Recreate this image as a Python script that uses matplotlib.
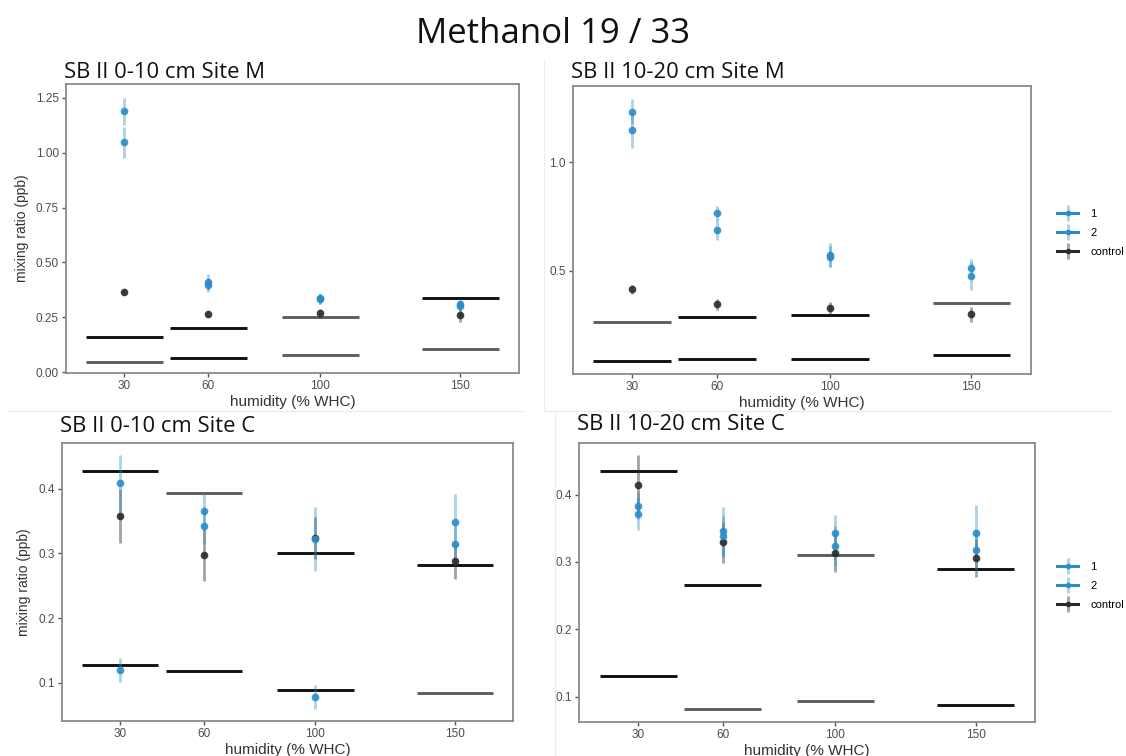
import numpy as np
import matplotlib
matplotlib.use("Agg")
from matplotlib import pyplot as plt
from matplotlib.lines import Line2D
from matplotlib.legend_handler import HandlerTuple

# -- Data --
humidity = [30, 60, 100, 150]
series_labels = ["1", "2", "control"]

# SB II 0-10 cm Site M
m010_s1 = [1.187, 0.411, 0.337, 0.313]
m010_s1_err = [0.063, 0.035, 0.025, 0.02]
m010_s2 = [1.046, 0.396, 0.333, 0.300]
m010_s2_err = [0.07, 0.03, 0.02, 0.02]
m010_ctrl = [0.367, 0.265, 0.269, 0.263]
m010_ctrl_err = [0.012, 0.012, 0.02, 0.035]
m010_ref_hi = [0.159, 0.204, 0.252, 0.339]
m010_ref_lo = [0.048, 0.065, 0.079, 0.106]

# SB II 10-20 cm Site M
m1020_s1 = [1.234, 0.766, 0.572, 0.514]
m1020_s1_err = [0.056, 0.034, 0.054, 0.04]
m1020_s2 = [1.149, 0.688, 0.565, 0.475]
m1020_s2_err = [0.084, 0.048, 0.047, 0.065]
m1020_ctrl = [0.414, 0.345, 0.329, 0.298]
m1020_ctrl_err = [0.02, 0.025, 0.027, 0.035]
m1020_ref_hi = [0.265, 0.286, 0.294, 0.352]
m1020_ref_lo = [0.083, 0.092, 0.092, 0.109]

# SB II 0-10 cm Site C
c010_s1 = [0.408, 0.365, 0.322, 0.349]
c010_s1_err = [0.044, 0.028, 0.05, 0.043]
c010_s2 = [0.120, 0.343, 0.078, 0.314]
c010_s2_err = [0.018, 0.028, 0.019, 0.03]
c010_ctrl = [0.358, 0.297, 0.324, 0.288]
c010_ctrl_err = [0.042, 0.04, 0.032, 0.028]
c010_ref_hi = [0.428, 0.393, 0.300, 0.282]
c010_ref_lo = [0.128, 0.118, 0.089, 0.085]

# SB II 10-20 cm Site C
c1020_s1 = [0.383, 0.346, 0.343, 0.343]
c1020_s1_err = [0.02, 0.036, 0.026, 0.041]
c1020_s2 = [0.371, 0.338, 0.324, 0.318]
c1020_s2_err = [0.024, 0.03, 0.03, 0.03]
c1020_ctrl = [0.414, 0.329, 0.313, 0.306]
c1020_ctrl_err = [0.044, 0.03, 0.028, 0.028]
c1020_ref_hi = [0.435, 0.266, 0.310, 0.290]
c1020_ref_lo = [0.131, 0.081, 0.094, 0.087]

# -- Styling --
W, H = 1126, 756
BLUE = "#2b8cc8"
BLUE_ERR = (0.17, 0.55, 0.78, 0.4)
DARK = "#2a2a2a"
DARK_ERR = (0.2, 0.2, 0.2, 0.45)
BLACK = "#111111"
GREY = "#5e5e5e"
TITLE_FONT = ["Open Sans", "DejaVu Sans"]
AX_FONT = ["Liberation Sans", "DejaVu Sans"]
HALF_W = 13.7


def rect(x0, y0, x1, y1):
    # pixel box (top-left origin) -> figure fraction
    return [x0 / W, 1 - y1 / H, (x1 - x0) / W, (y1 - y0) / H]


def draw_panel(fig, box, title, title_base, s1, s1e, s2, s2e, ctrl, ctrle, hi, lo,
               hi_cols, lo_cols, ylim, yticks, ylabels, ylabel=True):
    ax = fig.add_axes(rect(*box))
    x = np.array(humidity)
    for xi, h, c in zip(x, hi, hi_cols):
        ax.hlines(h, xi - HALF_W, xi + HALF_W, color=c, lw=2.1, zorder=2)
    for xi, l, c in zip(x, lo, lo_cols):
        ax.hlines(l, xi - HALF_W, xi + HALF_W, color=c, lw=2.1, zorder=2)

    for y, e, col, ecol in [(ctrl, ctrle, DARK, DARK_ERR),
                            (s1, s1e, BLUE, BLUE_ERR),
                            (s2, s2e, BLUE, BLUE_ERR)]:
        ax.vlines(x, np.array(y) - np.array(e), np.array(y) + np.array(e),
                  color=ecol, lw=2.0, zorder=3)
        ax.plot(x, y, 'o', color=col, ms=5.5, mec='none', alpha=0.9, zorder=4)

    ax.set_xlim(9, 171)
    ax.set_ylim(*ylim)
    ax.set_xticks(humidity)
    ax.set_xticklabels([str(h) for h in humidity])
    ax.set_yticks(yticks)
    ax.set_yticklabels(ylabels)
    for sp in ax.spines.values():
        sp.set_color("#8a8a8a")
        sp.set_linewidth(1.3)
    ax.tick_params(length=3, width=1, color="#555555", labelsize=8.5,
                   labelcolor="#4d4d4d", pad=2)
    for lab in ax.get_xticklabels() + ax.get_yticklabels():
        lab.set_family(AX_FONT)
    ax.set_xlabel("humidity (% WHC)", fontsize=11, color="#333333",
                  family=AX_FONT, labelpad=2)
    if ylabel:
        ax.set_ylabel("mixing ratio (ppb)", fontsize=10, color="#333333",
                      family=AX_FONT, labelpad=5)
    fig.text((box[0] - 2) / W, 1 - title_base / H, title, fontsize=15.8,
             family=TITLE_FONT, color="#111111", ha="left", va="baseline")
    return ax


fig = plt.figure(figsize=(W / 100, H / 100), dpi=100)
fig.patch.set_facecolor("white")

fig.text(553 / W, 1 - 43 / H, "Methanol 19 / 33", fontsize=25, family=TITLE_FONT,
         ha="center", va="baseline", color="#111111")

draw_panel(fig, (65.7, 84, 519, 373), "SB II 0-10 cm Site M", 78,
           m010_s1, m010_s1_err, m010_s2, m010_s2_err, m010_ctrl, m010_ctrl_err,
           m010_ref_hi, m010_ref_lo,
           [BLACK, BLACK, GREY, BLACK], [GREY, BLACK, GREY, GREY],
           (-0.003, 1.312), [0, 0.25, 0.5, 0.75, 1.0, 1.25],
           ["0.00", "0.25", "0.50", "0.75", "1.00", "1.25"])

draw_panel(fig, (572.7, 86, 1030.7, 374), "SB II 10-20 cm Site M", 78,
           m1020_s1, m1020_s1_err, m1020_s2, m1020_s2_err, m1020_ctrl, m1020_ctrl_err,
           m1020_ref_hi, m1020_ref_lo,
           [GREY, BLACK, BLACK, GREY], [BLACK, BLACK, BLACK, BLACK],
           (0.023, 1.352), [0.5, 1.0], ["0.5", "1.0"], ylabel=False)

draw_panel(fig, (61.7, 442.7, 513.3, 721), "SB II 0-10 cm Site C", 432,
           c010_s1, c010_s1_err, c010_s2, c010_s2_err, c010_ctrl, c010_ctrl_err,
           c010_ref_hi, c010_ref_lo,
           [BLACK, GREY, BLACK, BLACK], [BLACK, BLACK, BLACK, GREY],
           (0.041, 0.471), [0.1, 0.2, 0.3, 0.4], ["0.1", "0.2", "0.3", "0.4"])

draw_panel(fig, (579.3, 443.3, 1034.7, 722.3), "SB II 10-20 cm Site C", 430,
           c1020_s1, c1020_s1_err, c1020_s2, c1020_s2_err, c1020_ctrl, c1020_ctrl_err,
           c1020_ref_hi, c1020_ref_lo,
           [BLACK, BLACK, GREY, BLACK], [BLACK, GREY, GREY, BLACK],
           (0.062, 0.476), [0.1, 0.2, 0.3, 0.4], ["0.1", "0.2", "0.3", "0.4"],
           ylabel=False)

# faint slide separators
sep = "#ededed"
fig.add_artist(Line2D([8 / W, 523 / W], [1 - 411 / H, 1 - 411 / H], color=sep, lw=1))
fig.add_artist(Line2D([545 / W, 1110 / W], [1 - 411 / H, 1 - 411 / H], color=sep, lw=1))
fig.add_artist(Line2D([544 / W, 544 / W], [1 - 60 / H, 1 - 410 / H], color=sep, lw=1))
fig.add_artist(Line2D([555 / W, 555 / W], [1 - 412 / H, 0], color=sep, lw=1))


# legends
def legend_handles():
    hs = []
    for col, ecol in [(BLUE, BLUE_ERR), (BLUE, BLUE_ERR), (DARK, DARK_ERR)]:
        line = Line2D([], [], color=col, lw=2.2, marker='o', ms=4, mec='none')
        bar = Line2D([], [], color=ecol, marker='|', ms=11, mew=2, ls='none')
        hs.append((line, bar))
    return hs


for ycen in [233, 586]:
    fig.legend(legend_handles(), series_labels,
               handler_map={tuple: HandlerTuple(ndivide=1)},
               loc="center left", bbox_to_anchor=(1057 / W, 1 - ycen / H),
               frameon=False, handlelength=1.9, labelspacing=0.8,
               handletextpad=1.1, borderpad=0, borderaxespad=0,
               prop={"family": AX_FONT, "size": 8})

fig.savefig("out.png", dpi=100, facecolor="white")
